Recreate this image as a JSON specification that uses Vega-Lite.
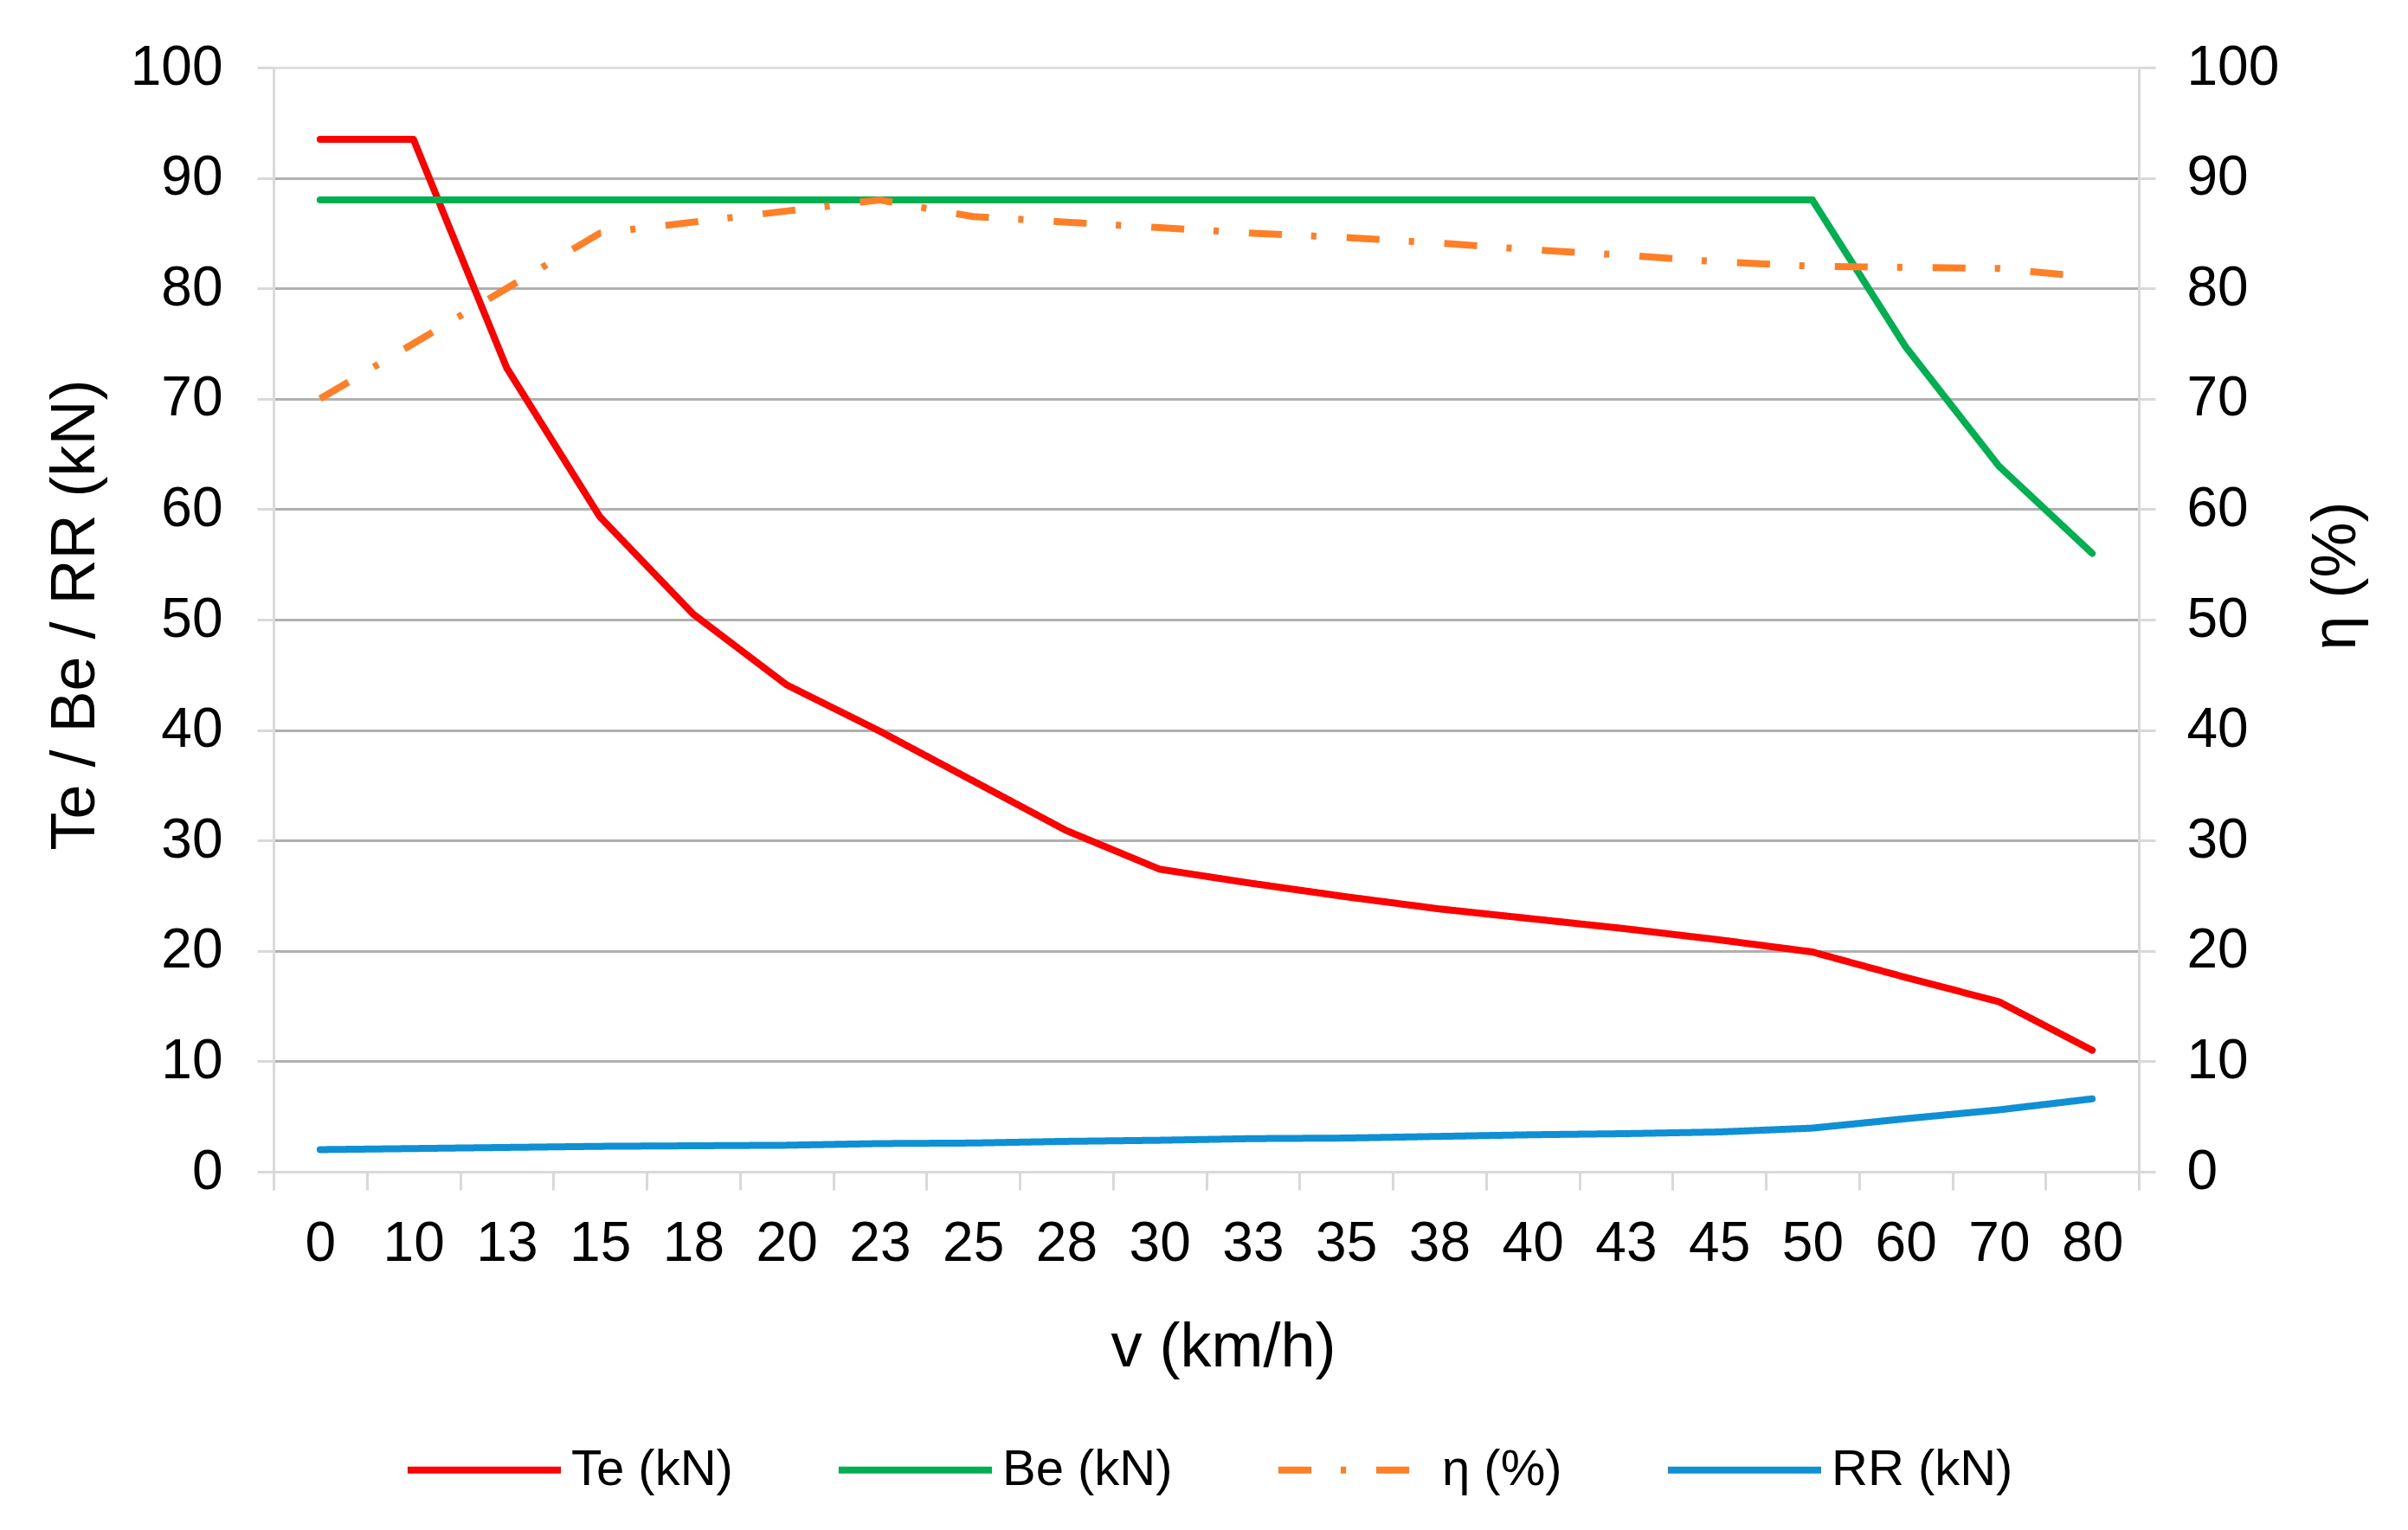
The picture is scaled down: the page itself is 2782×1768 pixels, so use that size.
{
  "$schema": "https://vega.github.io/schema/vega-lite/v6.json",
  "autosize": {"type": "none"},
  "padding": {"left": 316, "top": 78, "right": 311, "bottom": 414},
  "width": 2155,
  "height": 1276,
  "background": "white",
  "config": {
    "view": {"stroke": null},
    "font": "Liberation Sans",
    "axis": {"labelFont": "Liberation Sans", "titleFont": "Liberation Sans", "labelColor": "#000000", "titleColor": "#000000", "titleFontWeight": "normal", "labelFontSize": 64, "titleFontSize": 72}
  },
  "data": {"values": [
    {"v": "0", "series": "Te (kN)", "value": 93.5},
    {"v": "10", "series": "Te (kN)", "value": 93.5},
    {"v": "13", "series": "Te (kN)", "value": 72.8},
    {"v": "15", "series": "Te (kN)", "value": 59.3},
    {"v": "18", "series": "Te (kN)", "value": 50.5},
    {"v": "20", "series": "Te (kN)", "value": 44.1},
    {"v": "23", "series": "Te (kN)", "value": 39.9},
    {"v": "25", "series": "Te (kN)", "value": 35.4},
    {"v": "28", "series": "Te (kN)", "value": 30.9},
    {"v": "30", "series": "Te (kN)", "value": 27.4},
    {"v": "33", "series": "Te (kN)", "value": 26.1},
    {"v": "35", "series": "Te (kN)", "value": 24.9},
    {"v": "38", "series": "Te (kN)", "value": 23.8},
    {"v": "40", "series": "Te (kN)", "value": 22.9},
    {"v": "43", "series": "Te (kN)", "value": 22.0},
    {"v": "45", "series": "Te (kN)", "value": 21.0},
    {"v": "50", "series": "Te (kN)", "value": 19.9},
    {"v": "60", "series": "Te (kN)", "value": 17.6},
    {"v": "70", "series": "Te (kN)", "value": 15.4},
    {"v": "80", "series": "Te (kN)", "value": 11.0},
    {"v": "0", "series": "Be (kN)", "value": 88},
    {"v": "10", "series": "Be (kN)", "value": 88},
    {"v": "13", "series": "Be (kN)", "value": 88},
    {"v": "15", "series": "Be (kN)", "value": 88},
    {"v": "18", "series": "Be (kN)", "value": 88},
    {"v": "20", "series": "Be (kN)", "value": 88},
    {"v": "23", "series": "Be (kN)", "value": 88},
    {"v": "25", "series": "Be (kN)", "value": 88},
    {"v": "28", "series": "Be (kN)", "value": 88},
    {"v": "30", "series": "Be (kN)", "value": 88},
    {"v": "33", "series": "Be (kN)", "value": 88},
    {"v": "35", "series": "Be (kN)", "value": 88},
    {"v": "38", "series": "Be (kN)", "value": 88},
    {"v": "40", "series": "Be (kN)", "value": 88},
    {"v": "43", "series": "Be (kN)", "value": 88},
    {"v": "45", "series": "Be (kN)", "value": 88},
    {"v": "50", "series": "Be (kN)", "value": 88},
    {"v": "60", "series": "Be (kN)", "value": 74.7},
    {"v": "70", "series": "Be (kN)", "value": 63.9},
    {"v": "80", "series": "Be (kN)", "value": 56.0},
    {"v": "0", "series": "RR (kN)", "value": 2.0},
    {"v": "10", "series": "RR (kN)", "value": 2.1},
    {"v": "13", "series": "RR (kN)", "value": 2.2},
    {"v": "15", "series": "RR (kN)", "value": 2.3},
    {"v": "18", "series": "RR (kN)", "value": 2.35},
    {"v": "20", "series": "RR (kN)", "value": 2.4},
    {"v": "23", "series": "RR (kN)", "value": 2.55},
    {"v": "25", "series": "RR (kN)", "value": 2.6},
    {"v": "28", "series": "RR (kN)", "value": 2.75},
    {"v": "30", "series": "RR (kN)", "value": 2.85},
    {"v": "33", "series": "RR (kN)", "value": 3.0},
    {"v": "35", "series": "RR (kN)", "value": 3.05},
    {"v": "38", "series": "RR (kN)", "value": 3.2},
    {"v": "40", "series": "RR (kN)", "value": 3.35},
    {"v": "43", "series": "RR (kN)", "value": 3.45},
    {"v": "45", "series": "RR (kN)", "value": 3.6},
    {"v": "50", "series": "RR (kN)", "value": 3.95},
    {"v": "60", "series": "RR (kN)", "value": 4.8},
    {"v": "70", "series": "RR (kN)", "value": 5.6},
    {"v": "80", "series": "RR (kN)", "value": 6.6},
    {"v": "0", "series": "η (%)", "value": 70},
    {"v": "10", "series": "η (%)", "value": 75},
    {"v": "13", "series": "η (%)", "value": 80},
    {"v": "15", "series": "η (%)", "value": 85},
    {"v": "18", "series": "η (%)", "value": 86},
    {"v": "20", "series": "η (%)", "value": 87},
    {"v": "23", "series": "η (%)", "value": 88},
    {"v": "25", "series": "η (%)", "value": 86.5},
    {"v": "28", "series": "η (%)", "value": 86},
    {"v": "30", "series": "η (%)", "value": 85.5},
    {"v": "33", "series": "η (%)", "value": 85},
    {"v": "35", "series": "η (%)", "value": 84.6},
    {"v": "38", "series": "η (%)", "value": 84.1},
    {"v": "40", "series": "η (%)", "value": 83.5},
    {"v": "43", "series": "η (%)", "value": 83},
    {"v": "45", "series": "η (%)", "value": 82.4},
    {"v": "50", "series": "η (%)", "value": 82},
    {"v": "60", "series": "η (%)", "value": 81.9},
    {"v": "70", "series": "η (%)", "value": 81.8},
    {"v": "80", "series": "η (%)", "value": 81}
  ]},
  "encoding": {
    "x": {
      "field": "v", "type": "nominal", "bandPosition": 0.5,
      "sort": ["0","10","13","15","18","20","23","25","28","30","33","35","38","40","43","45","50","60","70","80"],
      "scale": {"type": "band", "paddingInner": 0, "paddingOuter": 0},
      "axis": {"title": "v (km/h)", "labelAngle": 0, "tickBand": "extent", "grid": false,
        "domainColor": "#d9d9d9", "domainWidth": 3, "tickColor": "#d9d9d9", "tickWidth": 3, "tickSize": 21,
        "labelPadding": 30, "titleX": 1097, "titleY": 224, "titleBaseline": "alphabetic"}
    },
    "color": {
      "field": "series", "type": "nominal",
      "scale": {"domain": ["Te (kN)", "Be (kN)", "η (%)", "RR (kN)"], "range": ["#FF0000", "#00B050", "#FF7F27", "#0F8FD4"]},
      "legend": {"title": null, "orient": "none", "direction": "horizontal", "legendX": 151, "legendY": 1528,
        "symbolType": "stroke", "symbolSize": 31329, "symbolStrokeWidth": 8, "labelFontSize": 58, "labelFont": "Liberation Sans",
        "labelColor": "#000000", "labelOffset": 8, "columnPadding": 106, "padding": 0, "labelLimit": 0}
    },
    "strokeDash": {
      "field": "series", "type": "nominal",
      "scale": {"domain": ["Te (kN)", "Be (kN)", "η (%)", "RR (kN)"], "range": [[1,0],[1,0],[38,34,6,35],[1,0]]},
      "legend": {"title": null, "orient": "none", "direction": "horizontal", "legendX": 151, "legendY": 1528,
        "symbolType": "stroke", "symbolSize": 31329, "symbolStrokeWidth": 8, "labelFontSize": 58, "labelFont": "Liberation Sans",
        "labelColor": "#000000", "labelOffset": 8, "columnPadding": 106, "padding": 0, "labelLimit": 0}
    }
  },
  "layer": [
    {
      "transform": [{"filter": "datum.series !== 'η (%)'"}],
      "mark": {"type": "line", "strokeWidth": 8, "strokeJoin": "round", "strokeCap": "round"},
      "encoding": {
        "y": {"field": "value", "type": "quantitative", "scale": {"domain": [0, 100], "nice": false},
          "axis": {"title": "Te / Be / RR (kN)", "orient": "left", "values": [0,10,20,30,40,50,60,70,80,90,100],
            "grid": true, "gridWidth": 3,
            "gridColor": {"condition": {"test": "datum.value === 100 || datum.value === 0", "value": "#dedede"}, "value": "#b0b0b0"},
            "domainColor": "#d9d9d9", "domainWidth": 3, "tickColor": "#d9d9d9", "tickWidth": 3, "tickSize": 19,
            "labelPadding": 40, "titleAngle": -90, "titleBaseline": "alphabetic", "titleX": -208, "titleY": 632, "titleAnchor": "middle"}}
      }
    },
    {
      "transform": [{"filter": "datum.series === 'η (%)'"}],
      "mark": {"type": "line", "strokeWidth": 8, "strokeJoin": "round", "strokeCap": "butt"},
      "encoding": {
        "y": {"field": "value", "type": "quantitative", "scale": {"domain": [0, 100], "nice": false},
          "axis": {"title": "η (%)", "orient": "right", "values": [0,10,20,30,40,50,60,70,80,90,100],
            "grid": false,
            "domainColor": "#d9d9d9", "domainWidth": 3, "tickColor": "#d9d9d9", "tickWidth": 3, "tickSize": 19,
            "labelPadding": 36, "titleAngle": -90, "titleBaseline": "alphabetic", "titleX": 249, "titleY": 587, "titleAnchor": "middle"}}
      }
    }
  ],
  "resolve": {"scale": {"y": "independent"}, "axis": {"y": "independent"}}
}
